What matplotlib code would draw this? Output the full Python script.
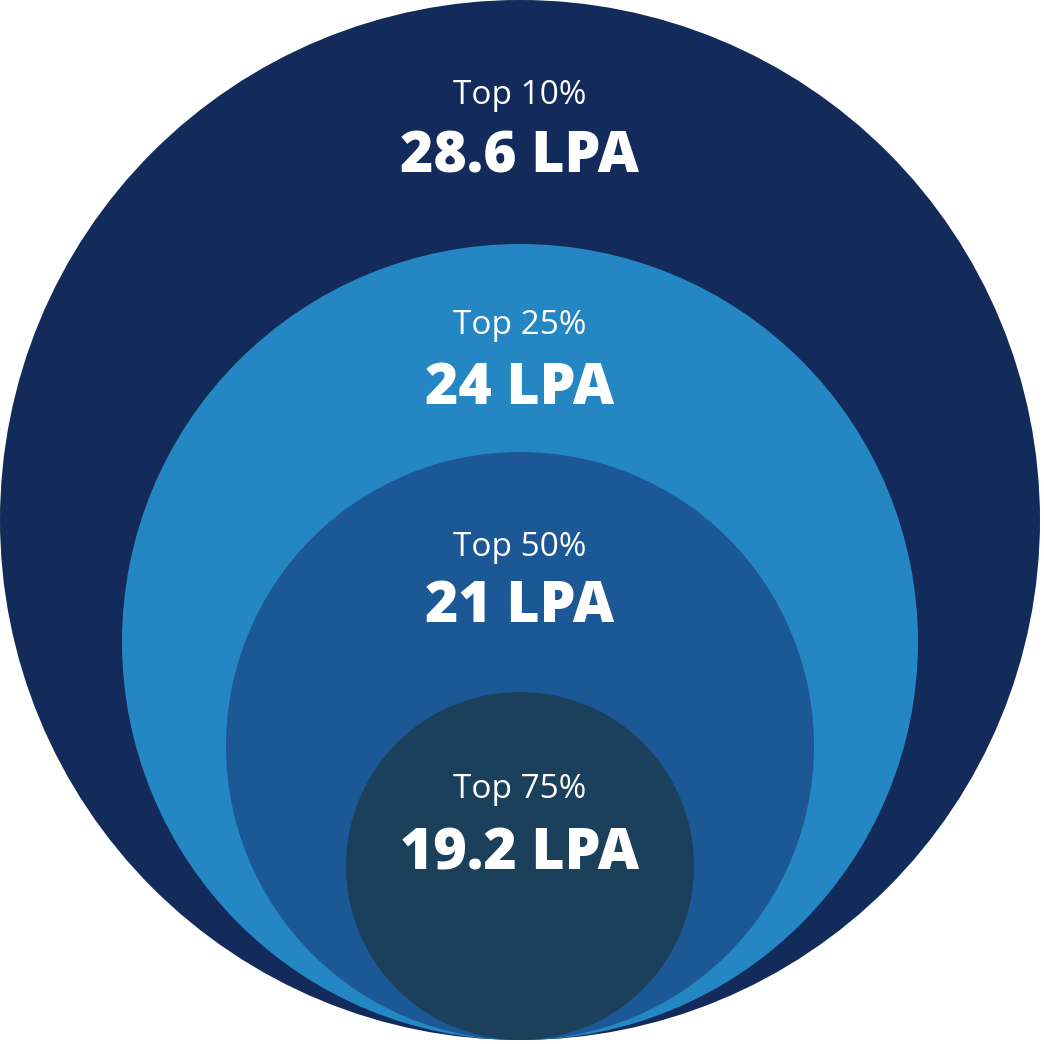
import matplotlib
matplotlib.use("Agg")
import matplotlib.pyplot as plt
from matplotlib.patches import Circle

# Data
tiers = ["Top 10%", "Top 25%", "Top 50%", "Top 75%"]
salaries_lpa = [28.6, 24, 21, 19.2]

# Layout (pixel space)
radii = [520, 398, 294, 174]
bottom_y = 1040
center_x = 520
label_y = [95, 325, 548, 790]
value_y = [158, 390, 608, 855]
colors = ["#122B5A", "#2486C2", "#1C5796", "#1B405C"]

plt.rcParams['font.family'] = ['Open Sans', 'DejaVu Sans']

fig = plt.figure(figsize=(10.44, 10.44), dpi=100)
ax = fig.add_axes([0, 0, 1, 1])
ax.set_xlim(0, 1044)
ax.set_ylim(1044, 0)
ax.set_aspect('equal')
ax.axis('off')

for r, c in zip(radii, colors):
    ax.add_patch(Circle((center_x, bottom_y - r), r, facecolor=c, edgecolor='none'))

def fmt(v):
    return f"{v:g} LPA"

for t, v, ly, vy in zip(tiers, salaries_lpa, label_y, value_y):
    ax.text(center_x, ly, t, color='white', fontsize=24, ha='center', va='center')
    ax.text(center_x, vy, fmt(v), color='white', fontsize=41, fontweight='heavy',
            ha='center', va='center')

fig.savefig("out.png", dpi=100)
